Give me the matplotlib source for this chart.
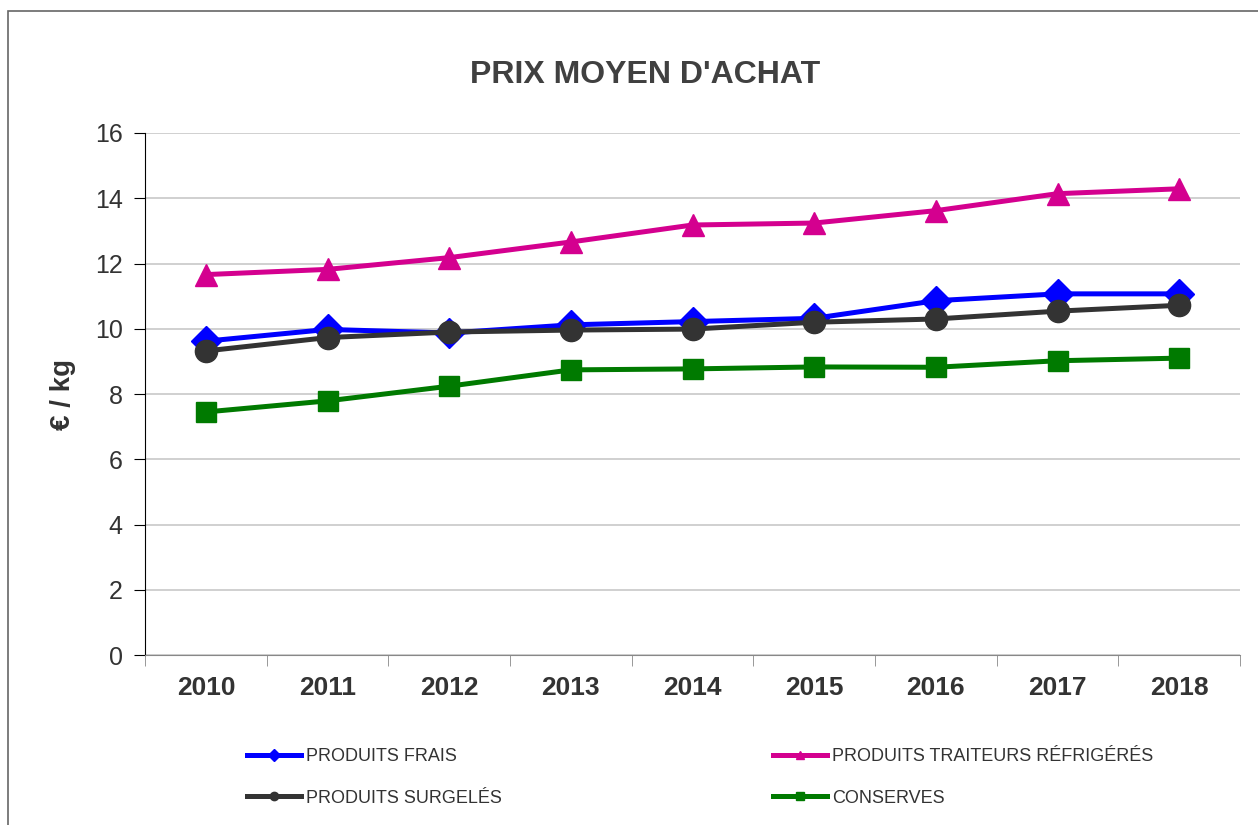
import matplotlib.pyplot as plt
import matplotlib.patches as patches
from matplotlib.lines import Line2D
import numpy as np

plt.rcParams['font.family'] = ['Liberation Sans', 'DejaVu Sans']

years = ['2010', '2011', '2012', '2013', '2014', '2015', '2016', '2017', '2018']
frais = [9.62, 9.98, 9.87, 10.12, 10.22, 10.32, 10.86, 11.07, 11.07]
traiteurs = [11.66, 11.82, 12.18, 12.66, 13.18, 13.24, 13.62, 14.14, 14.29]
surgeles = [9.32, 9.73, 9.90, 9.96, 9.99, 10.20, 10.30, 10.54, 10.72]
conserves = [7.45, 7.79, 8.24, 8.74, 8.77, 8.83, 8.82, 9.02, 9.10]

series = [
    ('PRODUITS FRAIS', frais, '#0000ff', 'D', 15),
    ('PRODUITS TRAITEURS RÉFRIGÉRÉS', traiteurs, '#d4008f', '^', 16),
    ('PRODUITS SURGELÉS', surgeles, '#333333', 'o', 16),
    ('CONSERVES', conserves, '#007a00', 's', 14),
]

fig = plt.figure(figsize=(12.58, 8.25), dpi=100)
ax = fig.add_axes([0.1153, 0.206, 0.8704, 0.6328])

x = np.arange(len(years))
handles = {}
for name, vals, col, mk, ms in series:
    ax.plot(x, vals, color=col, lw=3.6, marker=mk, markersize=ms, zorder=3)
    handles[name] = Line2D([], [], color=col, lw=3.6, marker=mk, markersize=6, label=name)

ax.set_xlim(-0.5, len(years) - 0.5)
ax.set_ylim(0, 16)
ax.set_yticks(np.arange(0, 17, 2))
ax.tick_params(axis='y', labelsize=18, labelcolor='#333333', length=8, direction='out', pad=8)
ax.set_xticks(x)
ax.set_xticklabels(years, fontsize=19, fontweight='bold', color='#333333')
ax.tick_params(axis='x', length=0, pad=15)
ax.set_xticks(np.arange(-0.5, len(years)), minor=True)
ax.tick_params(axis='x', which='minor', length=8, color='#888888')
ax.grid(axis='y', color='#c8c8c8', lw=1.2)
ax.set_axisbelow(True)
for s in ['top', 'right']:
    ax.spines[s].set_visible(False)
ax.spines['left'].set_color('black')
ax.spines['bottom'].set_color('#888888')

ax.set_ylabel('€ / kg', fontsize=20, fontweight='bold', color='#333333', labelpad=14)
fig.text(0.513, 0.909, "PRIX MOYEN D'ACHAT", ha='center', va='center',
         fontsize=23, fontweight='bold', color='#404040')

# legend filled column-wise, so order entries to read row by row
order = ['PRODUITS FRAIS', 'PRODUITS SURGELÉS', 'PRODUITS TRAITEURS RÉFRIGÉRÉS', 'CONSERVES']
fig.legend(handles=[handles[n] for n in order], loc='upper left',
           bbox_to_anchor=(0.196, 0.093), ncol=2,
           frameon=False, fontsize=13, handlelength=3.0, columnspacing=15.0,
           labelspacing=1.35, handletextpad=0.3, labelcolor='#333333',
           borderaxespad=0, borderpad=0)

border = patches.Rectangle((8 / 1258, -0.1), 1.2, 0.1 + (825 - 11) / 825,
                           transform=fig.transFigure, fill=False,
                           edgecolor='#666666', lw=1.2, clip_on=False)
fig.patches.append(border)

fig.savefig('out.png', dpi=100)
